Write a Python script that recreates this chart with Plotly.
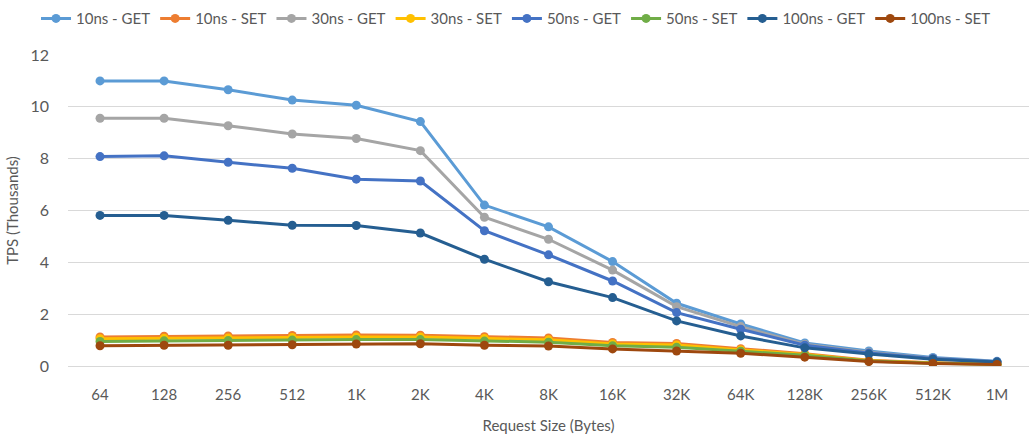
import plotly.graph_objects as go

# Request sizes on the category axis
sizes = ["64", "128", "256", "512", "1K", "2K", "4K", "8K", "16K",
         "32K", "64K", "128K", "256K", "512K", "1M"]

# Throughput in thousands of transactions per second
get_10ns = [11.0, 11.0, 10.66, 10.26, 10.06, 9.43, 6.21, 5.37, 4.03, 2.42, 1.62, 0.89, 0.58, 0.33, 0.18]
set_10ns = [1.12, 1.15, 1.16, 1.18, 1.20, 1.19, 1.13, 1.08, 0.91, 0.87, 0.67, 0.47, 0.22, 0.13, 0.08]
get_30ns = [9.56, 9.56, 9.27, 8.95, 8.78, 8.31, 5.74, 4.89, 3.70, 2.29, 1.52, 0.84, 0.53, 0.30, 0.16]
set_30ns = [1.05, 1.07, 1.08, 1.10, 1.12, 1.12, 1.06, 1.01, 0.85, 0.81, 0.62, 0.44, 0.20, 0.12, 0.07]
get_50ns = [8.08, 8.11, 7.86, 7.63, 7.21, 7.14, 5.22, 4.29, 3.28, 2.06, 1.42, 0.80, 0.50, 0.29, 0.16]
set_50ns = [0.95, 0.97, 0.98, 1.00, 1.02, 1.02, 0.96, 0.92, 0.78, 0.72, 0.57, 0.41, 0.19, 0.11, 0.07]
get_100ns = [5.81, 5.81, 5.62, 5.43, 5.42, 5.13, 4.12, 3.25, 2.64, 1.74, 1.16, 0.70, 0.46, 0.26, 0.15]
set_100ns = [0.78, 0.80, 0.80, 0.82, 0.85, 0.86, 0.80, 0.77, 0.66, 0.58, 0.49, 0.34, 0.17, 0.10, 0.06]

series = [
    ("10ns - GET", get_10ns, "#5B9BD5"),
    ("10ns - SET", set_10ns, "#ED7D31"),
    ("30ns - GET", get_30ns, "#A5A5A5"),
    ("30ns - SET", set_30ns, "#FFC000"),
    ("50ns - GET", get_50ns, "#4472C4"),
    ("50ns - SET", set_50ns, "#70AD47"),
    ("100ns - GET", get_100ns, "#255E91"),
    ("100ns - SET", set_100ns, "#9E480E"),
]

fig = go.Figure()
for name, vals, color in series:
    fig.add_trace(go.Scatter(
        x=sizes, y=vals, name=name, mode="lines+markers",
        line=dict(color=color, width=3),
        marker=dict(color=color, size=9),
    ))

text_color = "#595959"
fig.update_layout(
    width=1029, height=434,
    margin=dict(l=68, r=0, t=55, b=68, autoexpand=False),
    paper_bgcolor="white", plot_bgcolor="white",
    font=dict(family="Lato, Liberation Sans, sans-serif", size=15, color=text_color),
    legend=dict(
        orientation="h", x=0.035, xanchor="left", xref="container",
        y=0.995, yanchor="top", yref="container",
        font=dict(size=15, color=text_color),
        itemwidth=30, tracegroupgap=0,
    ),
    xaxis=dict(
        type="category", range=[-0.5, 14.5], showgrid=False,
        showline=False, ticks="", ticklabelstandoff=18,
        tickfont=dict(size=15, color=text_color),
        title=dict(text="Request Size (Bytes)", font=dict(size=15, color=text_color), standoff=18),
    ),
    yaxis=dict(
        range=[0, 12], dtick=2, showgrid=True, gridcolor="#D9D9D9", gridwidth=1,
        zeroline=True, zerolinecolor="#D9D9D9", zerolinewidth=1,
        ticklabelstandoff=18,
        tickfont=dict(size=16, color=text_color),
        title=dict(text="TPS (Thousands)", font=dict(size=15, color=text_color), standoff=8),
    ),
)

fig.write_html("out.html")
